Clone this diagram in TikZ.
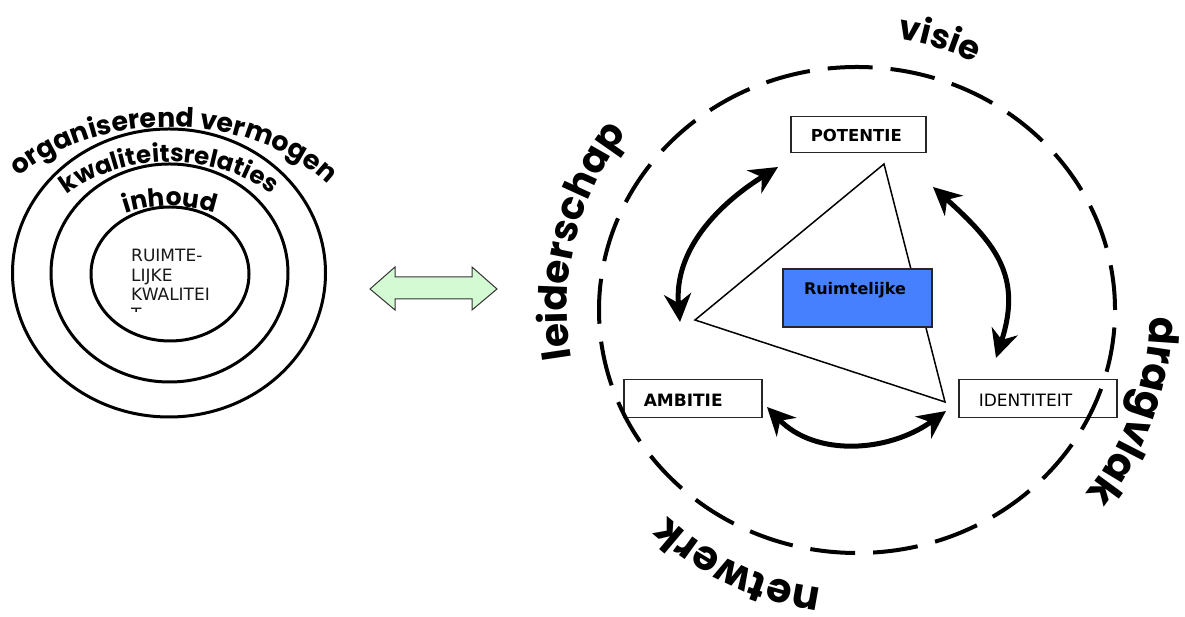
\documentclass[tikz,border=0pt]{standalone}
\usepackage{fontspec}
\setmainfont{DejaVu Sans}
\newfontfamily\comicf{Poppins}
\usetikzlibrary{arrows.meta,decorations.text}
\definecolor{boxblue}{RGB}{70,128,255}
\definecolor{mint}{RGB}{212,250,212}
\newcommand\waBig{\comicf\bfseries\fontsize{41}{41}\selectfont}
\newcommand\waLei{\comicf\bfseries\fontsize{39}{39}\selectfont}
\newcommand\waMid{\comicf\bfseries\fontsize{34}{34}\selectfont}
\newcommand\waOrg{\comicf\bfseries\fontsize{26.8}{28}\selectfont}
\newcommand\waKw{\comicf\bfseries\fontsize{24.5}{25}\selectfont}
\newcommand\waIn{\comicf\bfseries\fontsize{25}{25}\selectfont}
\tikzset{
  ring/.style={line width=3pt},
  labelbox/.style={draw=black!85, line width=1.5pt, fill=white, anchor=north west,
    inner xsep=20pt, inner ysep=0pt, align=left, font=\fontsize{17}{19}\selectfont},
  cyclearrow/.style={line width=5pt,
    {Stealth[length=28pt,width=27pt,inset=9pt]}-{Stealth[length=28pt,width=27pt,inset=9pt]}},
  dashring/.style={line width=4pt, dash pattern=on 45pt off 18pt},
}
\begin{document}
\begin{tikzpicture}[x=1pt,y=1pt]
\useasboundingbox (0,0) rectangle (1185,617);
\fill[white] (0,0) rectangle (1185,617);

% ---------- left: rings ----------
\coordinate (oc) at (169,344);
\coordinate (mc) at (169.5,344);
\coordinate (ic) at (170,343);
\draw[ring] (oc) ellipse [x radius=156.5, y radius=144];
\draw[ring] (mc) ellipse [x radius=118.5, y radius=109];
\draw[ring] (ic) ellipse [x radius=79, y radius=67];

\path[decorate, decoration={text along path, text align=center,
  text={|\waOrg|organiserend vermogen}}]
  (oc) ++(152:200 and 146) arc[start angle=152, end angle=24, x radius=200, y radius=146];
\path[decorate, decoration={text along path, text align=center,
  text={|\waKw|kwaliteitsrelaties}}]
  (mc) ++(160:145 and 111) arc[start angle=160, end angle=20, x radius=145, y radius=111];
\path[decorate, decoration={text along path, text align=center,
  text={|\waIn|inhoud}}]
  (ic) ++(160:100 and 68) arc[start angle=160, end angle=20, x radius=100, y radius=68];

\begin{scope}
  \clip (110,305) rectangle (260,380);
  \node[anchor=base west, text width=110pt, align=left, inner sep=0pt,
    text=black!90, font=\fontsize{17}{19.5}\selectfont] (kwal) at (131,355)
    {RUIMTE-\\LIJKE\\KWALITEI\\T};
\end{scope}

% ---------- middle: double arrow ----------
\draw[draw=black!80, line width=1pt, fill=mint, line join=miter]
  (370,328) -- (395,350) -- (395,340) -- (472,340) -- (472,350) -- (497,328)
  -- (472,307) -- (472,318) -- (395,318) -- (395,307) -- cycle;

% ---------- right ----------
\coordinate (ec) at (857,307);

% triangle
\coordinate (tA) at (884,453);
\coordinate (tB) at (695,297);
\coordinate (tC) at (945,215);
\draw[line width=1.5pt, line join=miter] (tA) -- (tB) -- (tC) -- cycle;

% boxes
\node[labelbox, text width=95pt, text height=24.7pt, text depth=11.3pt,
  font=\fontsize{16.5}{18}\selectfont\bfseries] (potentie) at (790,501) {POTENTIE};
\node[labelbox, text width=98pt, text height=27pt, text depth=11pt,
  font=\fontsize{17}{18}\selectfont\bfseries] (ambitie) at (623,238) {AMBITIE};
\node[labelbox, text width=118pt, text height=27pt, text depth=11pt] (identiteit) at (958,238) {IDENTITEIT};
\node[draw=black!85, line width=2pt, fill=boxblue, anchor=north west,
  inner xsep=21pt, inner ysep=0pt, text width=107pt, align=left,
  text height=26pt, text depth=32pt,
  font=\fontsize{16}{18}\selectfont\bfseries] (ruimte) at (782,349) {Ruimtelijke};

% dashed ring
\draw[dashring] (ec) ellipse [x radius=258, y radius=243];

% cycle arrows
\coordinate (a1) at (778,450);
\coordinate (a2) at (680,295);
\coordinate (c1) at (933,430);
\coordinate (c2) at (996,259);
\coordinate (e1) at (767,210);
\coordinate (e2) at (946,206);
\draw[cyclearrow] (a1) to[out=212, in=95] (a2);
\draw[cyclearrow] (c1) to[out=-42, in=72, looseness=1.2] (c2);
\draw[cyclearrow] (e1) to[out=-46, in=216] (e2);

% words around the ring
\path[decorate, decoration={text along path, text align=center,
  text={|\waMid|visie}}]
  (ec) ++(111:274) arc[start angle=111, end angle=35, radius=274];
\path[decorate, decoration={text along path, text align=center,
  text={|\waLei|leiderschap}}]
  (ec) ++(221:290) arc[start angle=221, end angle=111, radius=290];
\path[decorate, decoration={text along path, text align=center,
  text={|\waBig|dragvlak}}]
  (ec) ++(35:293) arc[start angle=35, end angle=-75, radius=293];
\path[decorate, decoration={text along path, text align=center,
  text={|\waBig|netwerk}}]
  (ec) ++(300:280) arc[start angle=300, end angle=190, radius=280];
\end{tikzpicture}
\end{document}
